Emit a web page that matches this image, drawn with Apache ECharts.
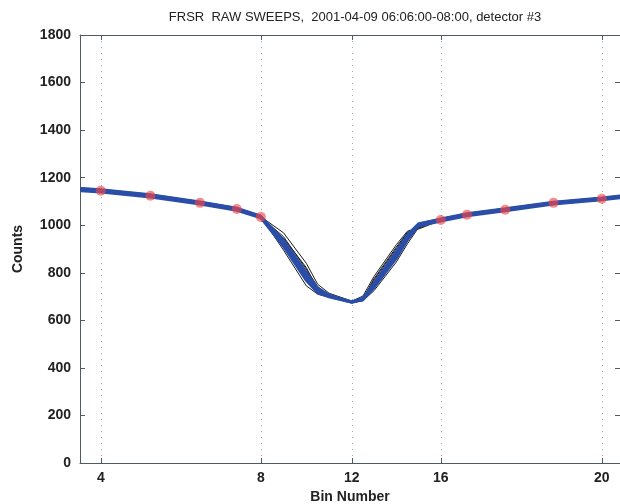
<!DOCTYPE html>
<html>
<head>
<meta charset="utf-8">
<script src="https://cdn.jsdelivr.net/npm/echarts@6/dist/echarts.min.js"></script>
<style>
  html, body { margin: 0; padding: 0; background: #fff; }
  #chart { width: 620px; height: 504px; }
</style>
</head>
<body>
<div id="chart"></div>
<script>
// bin numbers that carry a labelled tick, and where they sit on the (uneven) axis scale
var tickBins = [4, 8, 12, 16, 20];
var axisStops = [4, 8, 10.275, 12.5, 16.525];

// sample bins of every sweep
var bins = [3.5, 4, 5.24, 6.48, 7.4, 8, 9, 10, 10.5, 11, 12, 12.5, 13, 14, 14.5, 15, 16, 16.65, 17.6, 18.8, 20, 20.5];

// blue sweeps
var blue1 = [1153, 1148, 1127, 1097, 1071, 1038, 925, 785, 726, 703, 677, 690, 748, 875, 950, 1003, 1025, 1047, 1068, 1096, 1114, 1123];
var blue2 = [1147, 1142, 1121, 1091, 1065, 1032, 915, 772, 718, 699, 675, 686, 740, 865, 940, 998, 1019, 1041, 1062, 1090, 1108, 1117];
var blue3 = [1157, 1151, 1130, 1100, 1074, 1040, 932, 795, 732, 706, 678, 693, 755, 885, 958, 1006, 1028, 1050, 1071, 1099, 1117, 1126];
var blue4 = [1143, 1138, 1117, 1087, 1061, 1029, 908, 765, 714, 697, 674, 684, 735, 858, 935, 995, 1016, 1038, 1059, 1087, 1105, 1114];
var blue5 = [1150, 1145, 1124, 1094, 1068, 1035, 920, 780, 722, 701, 676, 688, 745, 870, 946, 1001, 1022, 1044, 1065, 1093, 1111, 1120];
var blue6 = [1155, 1149, 1128, 1098, 1072, 1039, 940, 805, 738, 708, 679, 695, 760, 892, 962, 1008, 1026, 1048, 1069, 1097, 1115, 1124];

// black sweeps
var black1 = [1151, 1146, 1125, 1095, 1069, 1036, 968, 840, 752, 714, 681, 702, 785, 918, 975, 988, 1023, 1045, 1066, 1094, 1112, 1121];
var black2 = [1149, 1144, 1123, 1093, 1067, 1034, 952, 815, 742, 707, 677, 694, 770, 902, 967, 984, 1021, 1043, 1064, 1092, 1110, 1119];
var black3 = [1152, 1147, 1126, 1096, 1070, 1037, 895, 745, 710, 697, 675, 682, 725, 845, 922, 990, 1024, 1046, 1067, 1095, 1113, 1122];
var black4 = [1147, 1142, 1121, 1091, 1065, 1032, 945, 822, 730, 703, 676, 690, 775, 908, 970, 994, 1019, 1041, 1062, 1090, 1108, 1117];

// red markers
var markBins = [4, 5.24, 6.48, 7.4, 8, 16, 16.65, 17.6, 18.8, 20];
var markCounts = [1145, 1124, 1094, 1068, 1035, 1022, 1044, 1065, 1094, 1111];

// bin number -> position on the uneven x scale (piecewise linear between tick stops)
function warp(b) {
  var n = tickBins.length;
  var i = 0;
  if (b >= tickBins[n - 1]) i = n - 2;
  else while (i < n - 2 && b > tickBins[i + 1]) i++;
  var t = (b - tickBins[i]) / (tickBins[i + 1] - tickBins[i]);
  return axisStops[i] + t * (axisStops[i + 1] - axisStops[i]);
}

function pts(xs, ys) {
  return xs.map(function (b, i) { return [warp(b), ys[i]]; });
}

var font = 'Liberation Sans, Arial, sans-serif';
var frame = '#4f5b60';

var series = [];
[black1, black2, black3, black4].forEach(function (s) {
  series.push({
    type: 'line', data: pts(bins, s), symbol: 'none',
    lineStyle: { color: '#1b1b1b', width: 1 }, silent: true
  });
});
[blue1, blue2, blue3, blue4, blue5, blue6].forEach(function (s) {
  series.push({
    type: 'line', data: pts(bins, s), symbol: 'none',
    lineStyle: { color: '#2b4ea8', width: 2 }, silent: true
  });
});
series.push({
  type: 'scatter', data: pts(markBins, markCounts), symbol: 'circle', symbolSize: 10,
  itemStyle: { color: 'rgba(242,70,70,0.8)' }, silent: true, z: 5
});

var chart = echarts.init(document.getElementById('chart'));
chart.setOption({
  animation: false,
  backgroundColor: '#fff',
  title: {
    text: 'FRSR  RAW SWEEPS,  2001-04-09 06:06:00-08:00, detector #3',
    left: 350, top: 6, textAlign: 'center',
    textStyle: { fontFamily: font, fontSize: 13, fontWeight: 'normal', color: '#222' }
  },
  grid: { left: 80, right: 0, top: 35, bottom: 41, containLabel: false, outerBoundsMode: 'none' },
  xAxis: [{
    type: 'value', min: 3.48, max: 16.98, position: 'bottom',
    name: 'Bin Number', nameLocation: 'middle', nameGap: 24,
    nameTextStyle: { fontFamily: font, fontSize: 14, fontWeight: 'bold', color: '#222' },
    axisLine: { onZero: false, lineStyle: { color: frame, width: 1 } },
    axisTick: { inside: true, length: 5, customValues: axisStops, lineStyle: { color: frame } },
    axisLabel: {
      customValues: axisStops, margin: 8,
      fontFamily: font, fontSize: 14, fontWeight: 'bold', color: '#222',
      formatter: function (v) { return String(tickBins[axisStops.indexOf(v)]); }
    },
    splitLine: { show: true, lineStyle: { color: '#86aebf', type: [1, 5], width: 1 } }
  }, {
    type: 'value', min: 3.48, max: 16.98, position: 'top',
    axisLine: { onZero: false, lineStyle: { color: frame, width: 1 } },
    axisTick: { inside: true, length: 5, customValues: axisStops, lineStyle: { color: frame } },
    axisLabel: { show: false },
    splitLine: { show: false }
  }],
  yAxis: [{
    type: 'value', min: 0, max: 1800, interval: 200, position: 'left',
    name: 'Counts', nameLocation: 'middle', nameGap: 55,
    nameTextStyle: { fontFamily: font, fontSize: 14, fontWeight: 'bold', color: '#222' },
    axisLine: { show: true, onZero: false, lineStyle: { color: frame, width: 1 } },
    axisTick: { show: true, inside: true, length: 5, lineStyle: { color: frame } },
    axisLabel: {
      margin: 9, fontFamily: font, fontSize: 14, fontWeight: 'bold', color: '#222',
      formatter: function (v) { return String(v); }
    },
    splitLine: { show: false }
  }, {
    type: 'value', min: 0, max: 1800, interval: 200, position: 'right',
    axisLine: { show: true, onZero: false, lineStyle: { color: frame, width: 1 } },
    axisTick: { show: true, inside: true, length: 5, lineStyle: { color: frame } },
    axisLabel: { show: false },
    splitLine: { show: false }
  }],
  series: series
});
</script>
</body>
</html>
